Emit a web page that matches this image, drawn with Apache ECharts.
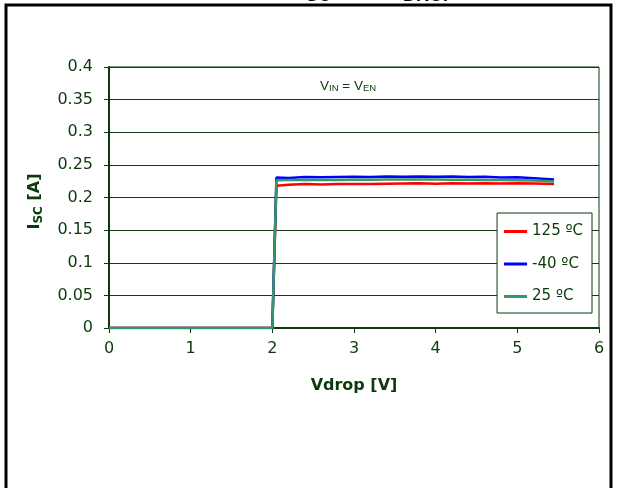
<!DOCTYPE html>
<html><head><meta charset="utf-8">
<script src="https://cdn.jsdelivr.net/npm/echarts@6/dist/echarts.min.js"></script>
<style>html,body{margin:0;padding:0;background:#fff}#c{width:617px;height:488px}</style>
</head><body><div id="c"></div>
<script>
const vdrop = [0, 0.5, 1, 1.5, 2, 2.05, 2.2, 2.4, 2.6, 2.8, 3.0, 3.2, 3.4, 3.6, 3.8, 4.0, 4.2, 4.4, 4.6, 4.8, 5.0, 5.2, 5.45];
const isc125 = [0, 0, 0, 0, 0, 0.218, 0.2195, 0.2205, 0.2198, 0.2205, 0.2205, 0.2205, 0.221, 0.2215, 0.222, 0.2212, 0.2218, 0.2215, 0.222, 0.2215, 0.222, 0.2215, 0.2205];
const iscM40 = [0, 0, 0, 0, 0, 0.2305, 0.2300, 0.2315, 0.2310, 0.2315, 0.2318, 0.2315, 0.2320, 0.2318, 0.2322, 0.2318, 0.2320, 0.2315, 0.2318, 0.2305, 0.2310, 0.2295, 0.2275];
const isc25 = [0, 0, 0, 0, 0, 0.2265, 0.2268, 0.2270, 0.2268, 0.2270, 0.2272, 0.2272, 0.2275, 0.2275, 0.2275, 0.2275, 0.2272, 0.2272, 0.2270, 0.2270, 0.2265, 0.2260, 0.2245];
const seriesNames = ['125 ºC', '-40 ºC', '25 ºC'];
const seriesColors = ['#ff0000', '#0000ff', '#339966'];

const green = '#0b3b0b';
const font = 'DejaVu Sans, Liberation Sans, Arial, sans-serif';
const pairs = arr => vdrop.map((x, i) => [x, arr[i]]);
const chart = echarts.init(document.getElementById('c'));
chart.setOption({
  animation: false,
  backgroundColor: '#fff',
  textStyle: { fontFamily: font },
  grid: { left: 109, right: 18, top: 67, bottom: 160, show: true, borderColor: green, borderWidth: 1 },
  xAxis: {
    type: 'value', min: 0, max: 6, interval: 1,
    name: 'Vdrop [V]', nameLocation: 'middle', nameGap: 50,
    nameTextStyle: { color: green, fontSize: 16, fontWeight: 'bold', fontFamily: font },
    axisLine: { show: true, lineStyle: { color: green, width: 2 } },
    axisTick: { show: true, inside: false, length: 5, lineStyle: { color: green } },
    axisLabel: { color: green, fontSize: 16, margin: 13, fontFamily: font },
    splitLine: { show: false }
  },
  yAxis: {
    type: 'value', min: 0, max: 0.4, interval: 0.05,
    name: '{a|I}{b|SC}{a| [A]}', nameLocation: 'middle', nameGap: 64, nameRotate: 90,
    nameTextStyle: { color: green, padding: [0, 8, 0, 0], rich: {
      a: { fontSize: 16, fontWeight: 'bold', color: green, fontFamily: font },
      b: { fontSize: 12, fontWeight: 'bold', color: green, fontFamily: font, padding: [8, 0, 0, 0] }
    } },
    axisLine: { show: true, lineStyle: { color: green, width: 2 } },
    axisTick: { show: true, length: 5, lineStyle: { color: green } },
    axisLabel: { color: green, fontSize: 16, margin: 16, fontFamily: font },
    splitLine: { show: true, lineStyle: { color: '#1a3a1a', width: 1 } }
  },
  legend: {
    orient: 'vertical', right: 25, top: 213,
    itemWidth: 23, itemHeight: 3, itemGap: 17.5,
    icon: 'rect',
    backgroundColor: '#fff', borderColor: green, borderWidth: 1,
    padding: [11, 9, 9, 7],
    textStyle: { color: green, fontSize: 15, fontFamily: font },
    data: seriesNames
  },
  graphic: [
    { type: 'rect', shape: { x: 6, y: 5, width: 605, height: 500 },
      style: { fill: 'none', stroke: '#000', lineWidth: 3 }, z: 100 },
    { type: 'text', left: 320, top: 79,
      style: { text: '{a|V}{b|IN}{a| = V}{b|EN}', rich: {
        a: { fontSize: 13.5, fill: green, fontFamily: 'Liberation Sans, Arial' },
        b: { fontSize: 9.5, fill: green, fontFamily: 'Liberation Sans, Arial', padding: [5, 0, 0, 0] }
      } } },
    { type: 'text', x: 306, y: 5, z: 50,
      style: { text: 'SC', fontSize: 18, fontWeight: 'bold', fill: '#000',
        fontFamily: 'Liberation Sans, Arial', textVerticalAlign: 'bottom' } },
    { type: 'text', x: 403, y: 5, z: 50,
      style: { text: 'DROP', fontSize: 18, fontWeight: 'bold', fill: '#000',
        fontFamily: 'Liberation Sans, Arial', textVerticalAlign: 'bottom' } }
  ],
  series: [isc125, iscM40, isc25].map((arr, i) => ({
    name: seriesNames[i], type: 'line', data: pairs(arr),
    showSymbol: false, symbol: 'none',
    lineStyle: { color: seriesColors[i], width: 2.5 },
    itemStyle: { color: seriesColors[i] }
  }))
});
</script></body></html>
